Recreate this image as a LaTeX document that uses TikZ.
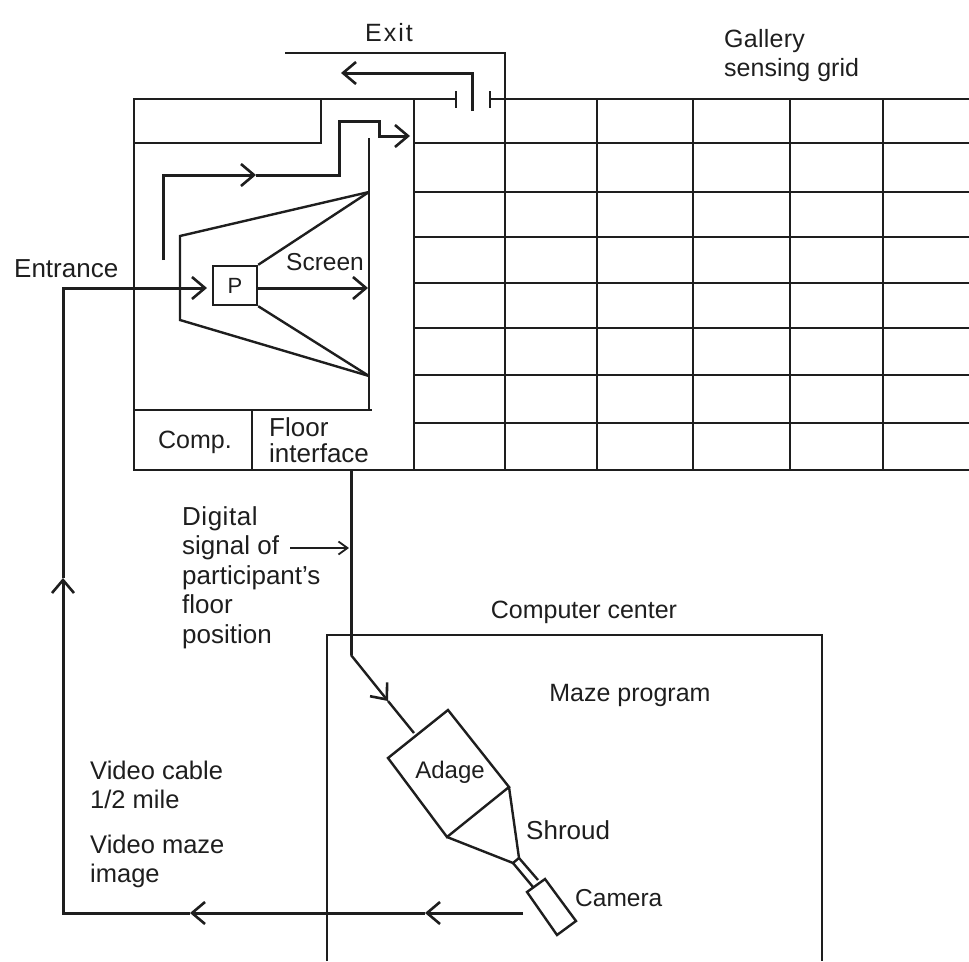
\documentclass[tikz,border=0pt]{standalone}
\usepackage{fontspec}
\setmainfont{Liberation Sans}
\usetikzlibrary{arrows.meta}
\definecolor{ink}{HTML}{1E1E1E}
\tikzset{
  wire/.style={draw=ink,line width=2.4pt},
  thick wire/.style={draw=ink,line width=3pt},
  barb/.style={-{Straight Barb[length=13pt,width=22pt,line width=2.6pt]}},
  lab/.style={text=ink,font=\fontsize{25}{29}\selectfont,inner sep=0pt,align=left},
  labw/.style={lab,anchor=west},
  boxn/.style={draw=ink,line width=2.4pt,inner sep=0pt,minimum width=44pt,minimum height=39pt,text=ink,font=\fontsize{22}{25}\selectfont}
}
\begin{document}
\begin{tikzpicture}[x=1pt,y=-1pt]
\useasboundingbox (0,0) rectangle (969,961);
% gallery grid
\foreach \yy in {143,192,237,283,328,375,423}{\draw[wire] (414,\yy) -- (969,\yy);}
\foreach \xx in {597,693,790,883}{\draw[wire] (\xx,99) -- (\xx,470);}
\draw[wire] (414,99) -- (414,470);
\draw[wire] (134,143) -- (321,143) -- (321,99);
\draw[wire] (456,99) -- (134,99) -- (134,470) -- (969,470);
\draw[wire] (490,99) -- (969,99);
\draw[wire] (456,91) -- (456,108);
\draw[wire] (490,91) -- (490,108);
\draw[wire] (285,53) -- (505,53) -- (505,470);
\draw[wire] (369,138) -- (369,410);
\draw[wire] (134,410) -- (372,410);
\draw[wire] (252,410) -- (252,470);
% exit path
\draw[thick wire,barb] (472,111) -- (472,73) -- (341,73);
% participant path
\coordinate (pathstart) at (163,260);
\coordinate (pathmid) at (256,175);
\coordinate (pathend) at (410,136);
\draw[thick wire,barb] (pathstart) -- (163,175) -- (pathmid);
\draw[thick wire,barb] (pathmid) -- (339,175) -- (339,121) -- (379,121) -- (379,136) -- (pathend);
% frustum and P
\node[boxn] (p) at (235,285.5) {P};
\coordinate (sT) at (369,192);
\coordinate (sB) at (369,376);
\draw[wire] (sT) -- (180,236) -- (180,320) -- (sB);
\draw[wire] (p.north east) -- (sT);
\draw[wire] (p.south east) -- (sB);
\coordinate (sM) at (368,288);
\draw[thick wire,barb] (p.east |- sM) -- (sM);
% video cable
\coordinate (vA) at (523,913);
\coordinate (vB) at (425,913);
\coordinate (vC) at (190,913);
\coordinate (vD) at (63,578);
\coordinate (vE) at (207,288);
\draw[thick wire,barb] (vA) -- (vB);
\draw[thick wire,barb] (vB) -- (vC);
\draw[thick wire,barb] (vC) -- (63,913) -- (vD);
\draw[thick wire,barb] (vD) -- (63,288) -- (vE);
% computer centre
\draw[wire] (327,961) -- (327,635) -- (822,635) -- (822,961);
% adage
\coordinate (a1) at (448,710);
\coordinate (a2) at (388,758);
\coordinate (a3) at (509,787);
\coordinate (a4) at (447,837);
\coordinate (sh1) at (519,858);
\coordinate (sh2) at (513,863);
\coordinate (aIn) at (414,733);
\draw[wire] (a2) -- (a1) -- (a3) -- (a4) -- cycle;
\draw[wire] (a3) -- (sh1) -- (sh2) -- (a4);
\draw[wire] (sh1) -- (538,880);
\draw[wire] (sh2) -- (533,887);
\draw[wire] (527,892) -- (545,879) -- (576,921) -- (557,935) -- cycle;
% signal
\coordinate (sg0) at (351,470);
\coordinate (sg1) at (351,655);
\coordinate (sgm) at (388,701);
\draw[thick wire] (sg0) -- (sg1);
\draw[wire,barb] (sg1) -- (sgm);
\draw[wire] (sgm) -- (aIn);
% labels
\node[lab] (exit) at (389,33) {\addfontfeature{LetterSpace=8}Exit};
\node[labw] (gallery) at (724,56) {\addfontfeature{LetterSpace=1}Gallery\\sensing grid};
\node[labw,font=\fontsize{26}{29}\selectfont] (entrance) at (14,269) {Entrance};
\node[lab,font=\fontsize{24.5}{29}\selectfont] (screen) at (325,262) {Screen};
\node[lab] (comp) at (195,442) {Comp.};
\node[labw,font=\fontsize{26}{26}\selectfont] (floor) at (269,440) {Floor\\interface};
\node[labw,font=\fontsize{26}{29.5}\selectfont] (digital) at (182,577.5) {\addfontfeature{LetterSpace=2}Digital\\signal of\\participant's\\floor\\position};
\node[lab] (cc) at (584,612) {Computer center};
\node[lab] (maze) at (630,695) {Maze program};
\node[lab,font=\fontsize{24}{29}\selectfont] (adage) at (450,772) {Adage};
\node[labw,font=\fontsize{26}{29}\selectfont] (shroud) at (526,830) {Shroud};
\node[labw,font=\fontsize{24.5}{29}\selectfont] (camera) at (575,898) {Camera};
\node[labw,font=\fontsize{25.5}{29}\selectfont] (cable) at (90,785) {Video cable\\1/2 mile};
\node[labw,font=\fontsize{25.5}{29}\selectfont] (image) at (90,861) {Video maze\\image};
\coordinate (sigPt) at (349,548);
\coordinate (sigSt) at (290,548);
\draw[wire,-{Straight Barb[length=9pt,width=13pt,line width=1.8pt]}] (sigSt) -- (sigPt);
\end{tikzpicture}
\end{document}
